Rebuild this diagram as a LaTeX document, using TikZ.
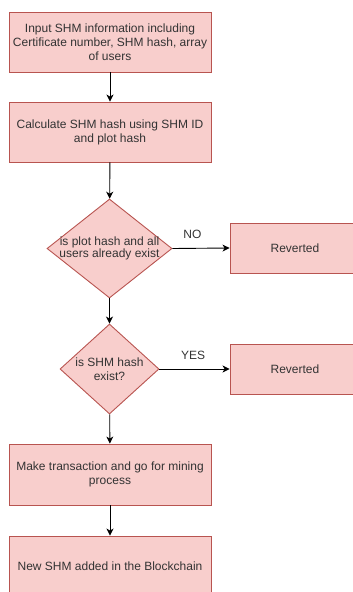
\documentclass[tikz,border=0pt]{standalone}
\usepackage{fontspec}
\setmainfont{Liberation Sans}
\usetikzlibrary{shapes.geometric,arrows.meta}
\definecolor{boxfill}{HTML}{F8CECC}
\definecolor{boxdraw}{HTML}{B85450}
\definecolor{txt}{HTML}{333333}
\begin{document}
\begin{tikzpicture}[x=1pt,y=-1pt,
  every node/.style={font=\fontsize{12pt}{14pt}\selectfont, text=txt},
  procbox/.style={rectangle, draw=boxdraw, fill=boxfill, line width=0.9pt, minimum width=202pt, minimum height=60pt, align=center, inner sep=0pt},
  revbox/.style={rectangle, draw=boxdraw, fill=boxfill, line width=0.9pt, minimum width=130pt, minimum height=50pt, inner sep=0pt},
  decbox/.style={diamond, draw=boxdraw, fill=boxfill, line width=0.9pt, inner sep=0pt},
  flow/.style={draw=black, line width=0.9pt, -{Stealth[length=7pt,width=7pt,inset=2pt]}},
  lbl/.style={font=\fontsize{12pt}{14pt}\selectfont, text=txt, inner sep=0pt}
]
\useasboundingbox (0,0) rectangle (353,592);
\clip (0,0) rectangle (353,592);

\node[procbox] (b1) at (110,42) {Input SHM information including\\Certificate number, SHM hash, array\\of users};
\node[procbox] (b2) at (110,132) {Calculate SHM hash using SHM ID\\and plot hash};
\node[decbox, minimum width=125pt, minimum height=99pt] (d1) at (109.5,248.5) {};
\node[lbl, align=center, font=\fontsize{12pt}{10.5pt}\selectfont] (d1t) at (d1.center) {is plot hash and all\\users already exist};
\node[revbox] (r1) at (295,248) {Reverted};
\node[decbox, minimum width=99pt, minimum height=90pt] (d2) at (109.5,369) {};
\node[lbl, align=center, font=\fontsize{12pt}{13.5pt}\selectfont] (d2t) at (d2.center) {is SHM hash\\exist?};
\node[revbox] (r2) at (295,369) {Reverted};
\node[procbox, minimum height=61pt] (b3) at (110,474.5) {Make transaction and go for mining\\process};
\node[procbox] (b4) at (110,566) {New SHM added in the Blockchain};

\draw[flow] (b1) -- (b2);
\draw[flow] (b2) -- (d1);
\draw[flow] (d1.east) -- node[lbl, above=9pt, pos=0.35] (no) {NO} (r1.west);
\draw[flow] (d1) -- (d2);
\draw[flow] (d2.east) -- node[lbl, above=9pt, pos=0.48] (yes) {YES} (r2.west);
\draw[flow] (d2) -- (b3);
\draw[flow] (b3) -- (b4);
\end{tikzpicture}
\end{document}
